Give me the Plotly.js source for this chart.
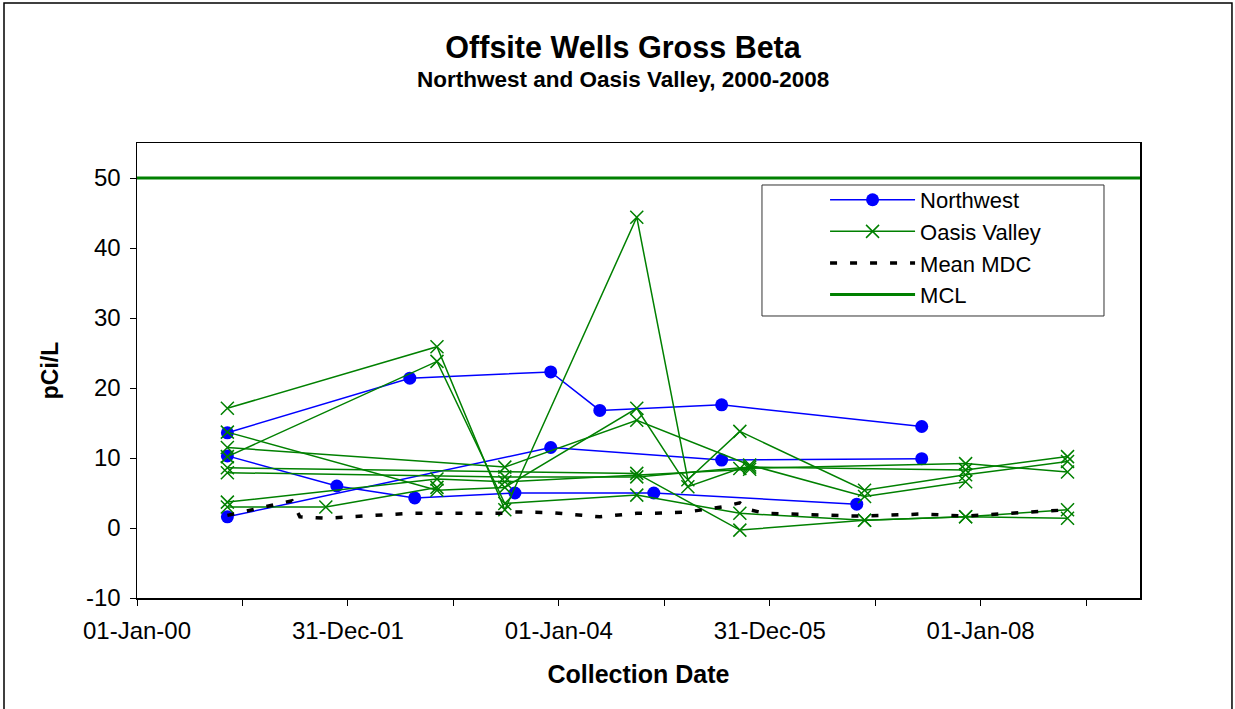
<!DOCTYPE html>
<html>
<head>
<meta charset="utf-8">
<script src="https://cdn.plot.ly/plotly-3.0.1.min.js"></script>
<style>html,body{margin:0;padding:0;background:#fff;}#chart{width:1235px;height:709px;}</style>
</head>
<body>
<div id="chart"></div>
<script>
// ---- Sampling dates (by event) ----
const dA = '2000-11-09', dB = '2001-10-16', dBn = '2001-11-23';
const dC = '2002-11-05', dCn1 = '2002-08-03', dCn2 = '2002-08-20';
const dD = '2003-06-28', dDn = '2003-08-02', dE = '2003-12-04', dF = '2004-05-22';
const dG = '2004-09-27', dGn = '2004-11-25', dH = '2005-03-23', dI = '2005-07-18';
const dJ = '2005-09-19', dJ2 = '2005-10-23', dK = '2006-11-25', dKn = '2006-10-29';
const dN = '2007-06-11', dL = '2007-11-10', dM = '2008-10-28';

// ---- Northwest wells (pCi/L) ----
const nw1Dates = [dA, dCn1, dE, dF, dI, dN];
const nw1Vals  = [13.6, 21.4, 22.3, 16.8, 17.6, 14.5];
const nw2Dates = [dA, dBn, dCn2, dDn, dGn, dKn];
const nw2Vals  = [10.3, 6.0, 4.3, 5.0, 5.0, 3.4];
const nw3Dates = [dA, dE, dI, dN];
const nw3Vals  = [1.6, 11.5, 9.7, 9.9];

// ---- Oasis Valley wells (pCi/L) ----
const ov1Dates = [dA, dC, dD, dG, dH, dJ, dK, dL, dM];
const ov1Vals  = [17.1, 25.9, 2.6, 44.4, 6.9, 13.8, 5.4, 7.6, 9.5];
const ov2Dates = [dA, dC, dD, dG, dJ, dK, dL, dM];
const ov2Vals  = [10.2, 23.8, 3.5, 4.7, 2.1, 1.1, 1.6, 2.6];
const ov3Dates = [dA, dC, dD, dG, dH, dJ, dL, dM];
const ov3Vals  = [13.7, 5.4, 5.8, 17.1, 5.9, 8.5, 9.2, 8.0];
const ov4Dates = [dA, dD, dG, dJ2, dK, dL];
const ov4Vals  = [11.5, 8.7, 15.4, 9.0, 4.5, 6.6];
const ov5Dates = [dA, dG, dJ, dK, dL, dM];
const ov5Vals  = [8.6, 7.8, -0.3, 1.1, 1.6, 1.4];
const ov6Dates = [dA, dD, dG, dJ2, dL, dM];
const ov6Vals  = [7.9, 7.3, 7.3, 8.7, 8.3, 10.2];
const ov7Dates = [dA, dC, dD, dJ2];
const ov7Vals  = [3.7, 7.0, 6.6, 8.4];
const ov8Dates = [dA, dB, dC];
const ov8Vals  = [3.0, 3.0, 5.8];

// ---- Mean MDC ----
const mdcDates = [dA, '2001-06-21', '2001-07-18', dB, dCn1, dC, dD, dDn, dE, dF, dG, dGn, dH, dI, dJ, dJ2, '2005-12-14', dKn, dK, dN, dL, dM];
const mdcVals  = [1.8, 3.9, 1.6, 1.4, 2.1, 2.1, 2.1, 2.3, 2.2, 1.6, 2.1, 2.1, 2.3, 3.0, 3.6, 2.6, 2.1, 1.7, 1.7, 2.0, 1.7, 2.6];

// ---- MCL ----
const mclDates = ['2000-01-01', '2009-07-06'];
const mclVals  = [50, 50];

// ---- Axis ticks ----
const xTickVals = ['2000-01-01', '2000-12-31 06:00', '2001-12-31 12:00', '2002-12-31 18:00', '2004-01-01',
                   '2004-12-31 06:00', '2005-12-31 12:00', '2006-12-31 18:00', '2008-01-01', '2008-12-31 06:00'];
const xTickText = ['01-Jan-00', '', '31-Dec-01', '', '01-Jan-04', '', '31-Dec-05', '', '01-Jan-08', ''];
const yTickVals = [-10, 0, 10, 20, 30, 40, 50];
const yTickText = ['-10', '0', '10', '20', '30', '40', '50'];
const xRange = ['2000-01-01', '2009-07-06'];
const yRange = [-10, 55];

const FONT = 'Liberation Sans, Arial, Helvetica, sans-serif';
const BLUE = '#0000FF', GREEN = '#008000';

const traces = [];
const nw = [[nw1Dates, nw1Vals], [nw2Dates, nw2Vals], [nw3Dates, nw3Vals]];
nw.forEach((w, i) => traces.push({
  x: w[0], y: w[1], type: 'scatter', mode: 'lines+markers', name: 'Northwest',
  legendgroup: 'nw', showlegend: i === 0,
  line: {color: BLUE, width: 1.5},
  marker: {color: BLUE, size: 13, symbol: 'circle'}
}));
const ov = [[ov1Dates, ov1Vals], [ov2Dates, ov2Vals], [ov3Dates, ov3Vals], [ov4Dates, ov4Vals],
            [ov5Dates, ov5Vals], [ov6Dates, ov6Vals], [ov7Dates, ov7Vals], [ov8Dates, ov8Vals]];
ov.forEach((w, i) => traces.push({
  x: w[0], y: w[1], type: 'scatter', mode: 'lines+markers', name: 'Oasis Valley',
  legendgroup: 'ov', showlegend: i === 0,
  line: {color: GREEN, width: 1.5},
  marker: {color: GREEN, size: 13, symbol: 'x-thin-open', line: {color: GREEN, width: 1.5}}
}));
traces.push({
  x: mdcDates, y: mdcVals, type: 'scatter', mode: 'lines', name: 'Mean MDC',
  line: {color: '#000000', width: 3.5, dash: '7px,13px'}
});
traces.push({
  x: mclDates, y: mclVals, type: 'scatter', mode: 'lines', name: 'MCL',
  line: {color: GREEN, width: 3}
});

const layout = {
  width: 1235, height: 709,
  margin: {l: 137, r: 95, t: 143, b: 111},
  paper_bgcolor: '#ffffff', plot_bgcolor: '#ffffff',
  font: {family: FONT, color: '#000000'},
  title: {
    text: 'Offsite Wells Gross Beta',
    font: {family: FONT, size: 30.5, weight: 'bold', color: '#000'},
    x: 0.5045, xref: 'container', xanchor: 'center',
    y: 1 - 47 / 709, yref: 'container', yanchor: 'middle'
  },
  annotations: [{
    text: 'Northwest and Oasis Valley, 2000-2008',
    font: {family: FONT, size: 22.5, weight: 'bold', color: '#000'},
    xref: 'paper', yref: 'paper', x: 0.4846, y: 1.1385,
    xanchor: 'center', yanchor: 'middle', showarrow: false
  }],
  xaxis: {
    type: 'date', range: xRange,
    tickmode: 'array', tickvals: xTickVals, ticktext: xTickText,
    ticks: 'outside', ticklen: 6, tickwidth: 1, tickcolor: '#000', ticklabelstandoff: 5,
    showline: true, linecolor: '#000', linewidth: 1.5, mirror: true,
    showgrid: false, zeroline: false,
    tickfont: {family: FONT, size: 24, color: '#000'},
    title: {text: 'Collection Date', font: {family: FONT, size: 25, weight: 'bold', color: '#000'}, standoff: 22}
  },
  yaxis: {
    range: yRange, tickmode: 'array', tickvals: yTickVals, ticktext: yTickText,
    ticks: 'outside', ticklen: 6, tickwidth: 1, tickcolor: '#000', ticklabelstandoff: 4,
    showline: true, linecolor: '#000', linewidth: 1.5, mirror: true,
    showgrid: false, zeroline: false,
    tickfont: {family: FONT, size: 24, color: '#000'},
    title: {text: 'pCi/L', font: {family: FONT, size: 23, weight: 'bold', color: '#000'}, standoff: 21}
  },
  showlegend: true,
  legend: {
    x: 0.686, y: 0.921, xanchor: 'left', yanchor: 'top',
    bgcolor: 'rgba(0,0,0,0)', borderwidth: 0,
    font: {family: FONT, size: 22, color: '#000'},
    itemwidth: 85, tracegroupgap: 0
  },
  shapes: [
    {type: 'rect', xref: 'paper', yref: 'paper', x0: 0.6231, x1: 0.9641, y0: 0.6198, y1: 0.9077,
     line: {color: '#333', width: 1}, fillcolor: '#ffffff', layer: 'below'},
    {type: 'rect', xref: 'paper', yref: 'paper', x0: -0.1326, x1: 1.0917, y0: -0.4, y1: 1.3077,
     line: {color: '#000', width: 1.5}, fillcolor: 'rgba(0,0,0,0)', layer: 'below'}
  ]
};

Plotly.newPlot('chart', traces, layout, {displayModeBar: false, staticPlot: true});
</script>
</body>
</html>
